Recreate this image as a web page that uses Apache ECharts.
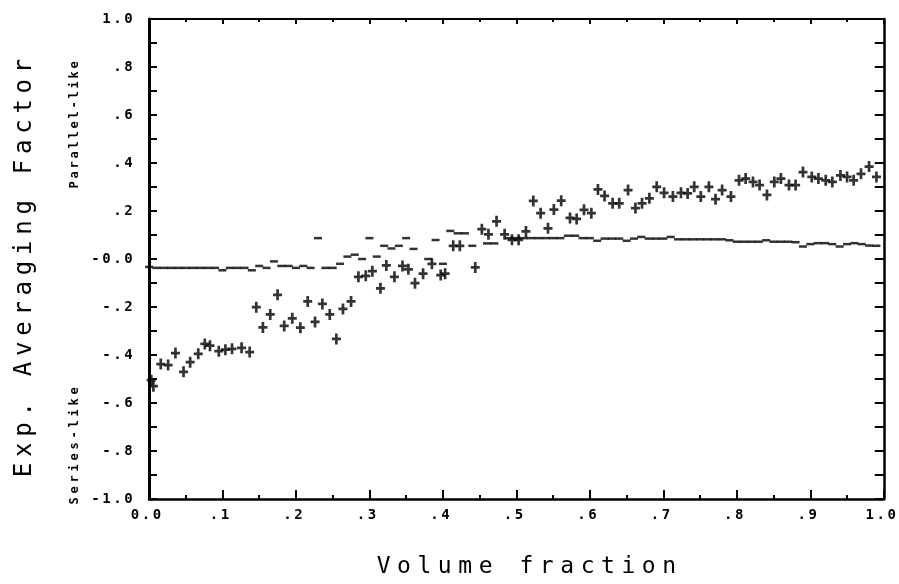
<!DOCTYPE html>
<html>
<head>
<meta charset="utf-8">
<script src="https://cdn.jsdelivr.net/npm/echarts@6/dist/echarts.min.js"></script>
<style>
  html, body { margin: 0; padding: 0; background: #fff; }
  #chart { width: 899px; height: 584px; }
</style>
</head>
<body>
<div id="chart"></div>
<script>
// Tick labels as printed by the plotter
const xTickLabels = ['0.0', '.1', '.2', '.3', '.4', '.5', '.6', '.7', '.8', '.9', '1.0'];
const yTickLabels = ['-1.0', '-.8', '-.6', '-.4', '-.2', '-0.0', '.2', '.4', '.6', '.8', '1.0'];

const xTitle = 'Volume fraction';
const yTitle = 'Exp. Averaging Factor';
const upperNote = 'Parallel-like';
const lowerNote = 'Series-like';

// Measured averaging factor ("+" marks)
const crossX = [0.003, 0.006, 0.016, 0.026, 0.036, 0.047, 0.056, 0.067, 0.076, 0.083,
  0.095, 0.104, 0.113, 0.126, 0.137, 0.146, 0.155, 0.165, 0.175, 0.184,
  0.195, 0.206, 0.216, 0.226, 0.236, 0.246, 0.255, 0.264, 0.275, 0.285,
  0.295, 0.304, 0.315, 0.323, 0.334, 0.345, 0.353, 0.362, 0.373, 0.385,
  0.397, 0.403, 0.414, 0.423, 0.444, 0.453, 0.462, 0.473, 0.484, 0.494,
  0.503, 0.513, 0.523, 0.533, 0.543, 0.551, 0.561, 0.573, 0.582, 0.592,
  0.602, 0.611, 0.620, 0.631, 0.640, 0.652, 0.662, 0.671, 0.681, 0.691,
  0.701, 0.713, 0.724, 0.733, 0.742, 0.751, 0.762, 0.771, 0.780, 0.792,
  0.803, 0.812, 0.822, 0.831, 0.841, 0.851, 0.860, 0.871, 0.880, 0.890,
  0.902, 0.911, 0.921, 0.930, 0.941, 0.950, 0.959, 0.969, 0.980, 0.990];
const crossY = [-0.505, -0.530, -0.438, -0.442, -0.392, -0.470, -0.430, -0.395, -0.354, -0.361,
  -0.384, -0.378, -0.374, -0.370, -0.388, -0.201, -0.285, -0.231, -0.149, -0.279,
  -0.247, -0.286, -0.177, -0.262, -0.187, -0.231, -0.333, -0.208, -0.177, -0.074,
  -0.070, -0.051, -0.122, -0.027, -0.074, -0.029, -0.043, -0.101, -0.061, -0.020,
  -0.067, -0.061, 0.055, 0.055, -0.035, 0.124, 0.103, 0.157, 0.103, 0.080,
  0.080, 0.115, 0.242, 0.191, 0.128, 0.206, 0.243, 0.171, 0.167, 0.205,
  0.191, 0.290, 0.263, 0.232, 0.232, 0.287, 0.212, 0.232, 0.253, 0.301,
  0.276, 0.260, 0.276, 0.273, 0.301, 0.260, 0.301, 0.249, 0.287, 0.260,
  0.328, 0.335, 0.321, 0.308, 0.267, 0.321, 0.335, 0.308, 0.308, 0.362,
  0.342, 0.335, 0.328, 0.321, 0.348, 0.342, 0.328, 0.355, 0.385, 0.342];

// Model averaging factor ("-" marks, close enough to run together as a line)
const dashX = [0.00, 0.01, 0.02, 0.03, 0.04, 0.05, 0.06, 0.07, 0.08, 0.09,
  0.10, 0.11, 0.12, 0.13, 0.14, 0.15, 0.16, 0.17, 0.18, 0.19,
  0.20, 0.21, 0.22, 0.23, 0.24, 0.25, 0.26, 0.27, 0.28, 0.29,
  0.30, 0.31, 0.32, 0.33, 0.34, 0.35, 0.36, 0.38, 0.39, 0.40,
  0.41, 0.42, 0.43, 0.44, 0.46, 0.47, 0.49,
  0.50, 0.51, 0.52, 0.53, 0.54, 0.55, 0.56, 0.57, 0.58, 0.59,
  0.60, 0.61, 0.62, 0.63, 0.64, 0.65, 0.66, 0.67, 0.68, 0.69,
  0.70, 0.71, 0.72, 0.73, 0.74, 0.75, 0.76, 0.77, 0.78, 0.79,
  0.80, 0.81, 0.82, 0.83, 0.84, 0.85, 0.86, 0.87, 0.88, 0.89,
  0.90, 0.91, 0.92, 0.93, 0.94, 0.95, 0.96, 0.97, 0.98, 0.99];
const dashY = [-0.033, -0.037, -0.037, -0.037, -0.037, -0.037, -0.037, -0.037, -0.037, -0.037,
  -0.047, -0.037, -0.037, -0.037, -0.047, -0.029, -0.037, -0.010, -0.029, -0.029,
  -0.037, -0.029, -0.037, 0.087, -0.037, -0.037, -0.020, 0.010, 0.018, 0.000,
  0.087, 0.010, 0.055, 0.044, 0.055, 0.087, 0.042, 0.000, 0.079, -0.020,
  0.117, 0.107, 0.107, 0.055, 0.065, 0.065, 0.087,
  0.087, 0.087, 0.087, 0.087, 0.087, 0.087, 0.087, 0.097, 0.097, 0.087,
  0.087, 0.076, 0.085, 0.085, 0.085, 0.076, 0.085, 0.092, 0.085, 0.085,
  0.085, 0.092, 0.082, 0.082, 0.082, 0.082, 0.082, 0.082, 0.082, 0.078,
  0.072, 0.072, 0.072, 0.072, 0.078, 0.072, 0.072, 0.072, 0.070, 0.052,
  0.062, 0.066, 0.066, 0.062, 0.052, 0.062, 0.066, 0.062, 0.056, 0.055];

const ink = '#000';
const plotterFont = "'DejaVu Sans Mono', 'Liberation Mono', monospace";

// Spread a string over fixed-width rich-text cells (plotter-style letter spacing)
function cells(str, key) {
  return str.split('').map(function (ch) { return '{' + key + '|' + ch + '}'; }).join('');
}
function pairs(xs, ys) {
  return xs.map(function (x, i) { return [x, ys[i]]; });
}

const plusPath = 'path://M3.5,0h3v4.5h3.5v3h-3.5v4.5h-3v-4.5h-3.5v-3h3.5z';

const chart = echarts.init(document.getElementById('chart'), null, { renderer: 'canvas' });

const tickRich = {
  t: { width: 11, align: 'center', fontFamily: plotterFont, fontWeight: 'bold', fontSize: 14, color: ink }
};

chart.setOption({
  animation: false,
  backgroundColor: '#fff',
  grid: { left: 149, right: 12, top: 19, bottom: 76, containLabel: false },
  xAxis: [
    {
      type: 'value', position: 'bottom', min: 0, max: 1, interval: 0.1,
      axisLine: { show: true, onZero: false, lineStyle: { color: ink, width: 2.5 } },
      axisTick: { show: true, inside: true, length: 9, lineStyle: { color: ink, width: 2 } },
      minorTick: { show: true, splitNumber: 2, length: 4, lineStyle: { color: ink, width: 2 } },
      splitLine: { show: false },
      axisLabel: {
        margin: 9,
        padding: [0, 6, 0, 0],
        formatter: function (v) { return cells(xTickLabels[Math.round(v * 10)], 't'); },
        rich: tickRich
      },
      name: cells(xTitle, 'n'),
      nameLocation: 'middle',
      nameGap: 57,
      nameTextStyle: {
        padding: [0, 0, 0, 20],
        rich: { n: { width: 20.4, align: 'center', fontFamily: plotterFont, fontSize: 23, color: ink } }
      }
    },
    {
      type: 'value', position: 'top', min: 0, max: 1, interval: 0.1,
      axisLine: { show: true, onZero: false, lineStyle: { color: ink, width: 2 } },
      axisTick: { show: true, inside: true, length: 5, lineStyle: { color: ink, width: 2 } },
      minorTick: { show: true, splitNumber: 2, length: 3, lineStyle: { color: ink, width: 2 } },
      splitLine: { show: false },
      axisLabel: { show: false }
    }
  ],
  yAxis: [
    {
      type: 'value', position: 'left', min: -1, max: 1, interval: 0.1,
      axisLine: { show: true, onZero: false, lineStyle: { color: ink, width: 3 } },
      axisTick: { show: true, inside: true, length: 8, lineStyle: { color: ink, width: 2 } },
      splitLine: { show: false },
      axisLabel: {
        margin: 15,
        formatter: function (v) {
          const k = Math.round((v + 1) * 10);
          return k % 2 ? '' : cells(yTickLabels[k / 2], 't');
        },
        rich: tickRich
      },
      name: cells(yTitle, 'n'),
      nameLocation: 'middle',
      nameRotate: 90,
      nameGap: 112,
      nameTextStyle: {
        padding: [0, 18, 0, 0],
        rich: { n: { width: 20.2, align: 'center', fontFamily: plotterFont, fontSize: 24, color: ink } }
      }
    },
    {
      type: 'value', position: 'right', min: -1, max: 1, interval: 0.1,
      axisLine: { show: true, onZero: false, lineStyle: { color: ink, width: 2.5 } },
      axisTick: { show: true, inside: true, length: 9, lineStyle: { color: ink, width: 2 } },
      splitLine: { show: false },
      axisLabel: { show: false }
    }
  ],
  graphic: [
    {
      type: 'text', x: 75, y: 125, rotation: Math.PI / 2,
      style: {
        text: cells(upperNote, 's'), align: 'center', verticalAlign: 'middle',
        rich: { s: { width: 10, align: 'center', fontFamily: plotterFont, fontWeight: 'bold', fontSize: 12, fill: ink } }
      }
    },
    {
      type: 'text', x: 75, y: 446, rotation: Math.PI / 2,
      style: {
        text: cells(lowerNote, 's'), align: 'center', verticalAlign: 'middle',
        rich: { s: { width: 11, align: 'center', fontFamily: plotterFont, fontWeight: 'bold', fontSize: 12, fill: ink } }
      }
    }
  ],
  series: [
    {
      name: 'model', type: 'scatter', xAxisIndex: 0, yAxisIndex: 0,
      symbol: 'rect', symbolSize: [8, 2.5],
      itemStyle: { color: ink },
      data: pairs(dashX, dashY)
    },
    {
      name: 'measured', type: 'scatter', xAxisIndex: 0, yAxisIndex: 0,
      symbol: plusPath, symbolKeepAspect: false, symbolSize: [9, 11],
      itemStyle: { color: ink },
      data: pairs(crossX, crossY)
    }
  ]
});
</script>
</body>
</html>
